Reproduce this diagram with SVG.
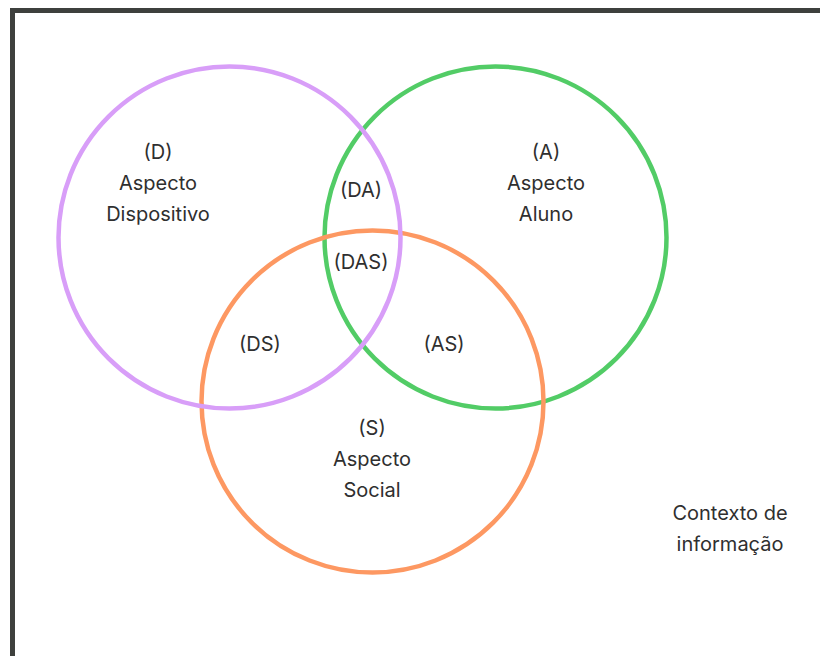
<svg xmlns="http://www.w3.org/2000/svg" width="820" height="656" viewBox="0 0 820 656">
  <style>
    .ring { fill: none; stroke-width: 4.5; }
    .lbl { font-family: Inter, "Noto Sans", "Liberation Sans", sans-serif; font-size: 20px; fill: #2f2f2f; text-anchor: middle; }
  </style>
  <rect x="0" y="0" width="820" height="656" fill="#ffffff"/>
  <!-- outer frame (runs past the right and bottom edges) -->
  <rect id="frame" x="12.5" y="10.5" width="840" height="700" fill="none" stroke="#3e403d" stroke-width="5"/>

  <g id="aluno">
    <circle class="ring" cx="495.5" cy="237.5" r="171" stroke="#52cc66"/>
    <text class="lbl" x="546" y="159">(A)</text>
    <text class="lbl" x="546" y="190">Aspecto</text>
    <text class="lbl" x="546" y="221">Aluno</text>
  </g>
  <g id="social">
    <circle class="ring" cx="372.5" cy="401.5" r="171" stroke="#fd9862"/>
    <text class="lbl" x="372" y="435">(S)</text>
    <text class="lbl" x="372" y="466">Aspecto</text>
    <text class="lbl" x="372" y="497">Social</text>
  </g>
  <g id="dispositivo">
    <circle class="ring" cx="229.5" cy="237.5" r="171" stroke="#d89ef8"/>
    <text class="lbl" x="158" y="159">(D)</text>
    <text class="lbl" x="158" y="190">Aspecto</text>
    <text class="lbl" x="158" y="221">Dispositivo</text>
  </g>

  <g id="intersections">
    <text class="lbl" x="361" y="197">(DA)</text>
    <text class="lbl" x="361" y="269">(DAS)</text>
    <text class="lbl" x="260" y="351">(DS)</text>
    <text class="lbl" x="444" y="351">(AS)</text>
  </g>

  <g id="contexto">
    <text class="lbl" x="730" y="520">Contexto de</text>
    <text class="lbl" x="730" y="551">informação</text>
  </g>
</svg>
